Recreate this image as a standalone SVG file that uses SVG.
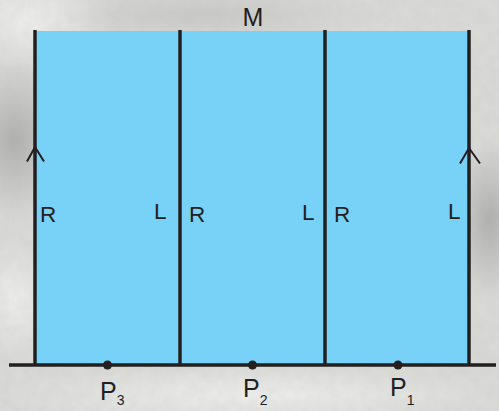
<svg xmlns="http://www.w3.org/2000/svg" width="499" height="411" viewBox="0 0 499 411">
<defs>
<style>
.ln{stroke:#231f20;stroke-width:3.5;fill:none}
.arr{stroke:#231f20;stroke-width:2;fill:none}
.t{font-family:"Liberation Sans",Arial,sans-serif;fill:#231f20}
.lab{font-size:22.5px}
.big{font-size:25px}
.sub{font-size:14px}
</style>
<radialGradient id="gl" cx="0.5" cy="0.5" r="0.5">
<stop offset="0" stop-color="#a6a6a4" stop-opacity="0.85"/>
<stop offset="1" stop-color="#a6a6a4" stop-opacity="0"/>
</radialGradient>
<radialGradient id="gw" cx="0.5" cy="0.5" r="0.5">
<stop offset="0" stop-color="#f2f2f0" stop-opacity="0.9"/>
<stop offset="1" stop-color="#f2f2f0" stop-opacity="0"/>
</radialGradient>
<filter id="noise" x="0" y="0" width="100%" height="100%">
<feTurbulence type="fractalNoise" baseFrequency="0.08" numOctaves="3" seed="4"/>
<feColorMatrix type="matrix" values="0 0 0 0 0.5  0 0 0 0 0.5  0 0 0 0 0.5  0 0 0 0.22 0"/>
</filter>
</defs>
<g id="background">
<rect x="0" y="0" width="499" height="411" fill="#dadad7"/>
<ellipse cx="15" cy="140" rx="55" ry="80" fill="url(#gl)"/>
<ellipse cx="490" cy="220" rx="40" ry="80" fill="url(#gl)"/>
<ellipse cx="200" cy="15" rx="180" ry="30" fill="url(#gl)" opacity="0.4"/>
<ellipse cx="30" cy="20" rx="80" ry="50" fill="url(#gw)"/>
<ellipse cx="250" cy="395" rx="260" ry="30" fill="url(#gw)"/>
<ellipse cx="15" cy="300" rx="40" ry="60" fill="url(#gw)"/>
<rect x="0" y="0" width="499" height="411" filter="url(#noise)"/>
</g>
<g id="region">
<rect x="35" y="31" width="434" height="334" fill="#78d1f6"/>
</g>
<g id="connectors">
<line class="ln" x1="35" y1="30" x2="35" y2="365"/>
<line class="ln" x1="180" y1="30" x2="180" y2="365"/>
<line class="ln" x1="325" y1="30" x2="325" y2="365"/>
<line class="ln" x1="469" y1="30" x2="469" y2="365"/>
<line class="ln" x1="9" y1="365" x2="496" y2="365"/>
<polyline class="arr" points="27,161.5 35,147 44,161.5"/>
<polyline class="arr" points="460,163.5 469,148 480,163.5"/>
</g>
<g id="points">
<circle cx="107.5" cy="365" r="4.5" fill="#231f20"/>
<circle cx="252.5" cy="365" r="4.5" fill="#231f20"/>
<circle cx="398" cy="365" r="4.5" fill="#231f20"/>
</g>
<g id="labels">
<text class="t big" x="242.5" y="26">M</text>
<text class="t lab" x="40" y="221.5">R</text>
<text class="t lab" x="154" y="218.5">L</text>
<text class="t lab" x="189" y="221.5">R</text>
<text class="t lab" x="302" y="220">L</text>
<text class="t lab" x="334" y="221.5">R</text>
<text class="t lab" x="448" y="218.5">L</text>
<text class="t big" x="100" y="400">P<tspan class="sub" dy="5">3</tspan></text>
<text class="t big" x="243" y="397">P<tspan class="sub" dy="8">2</tspan></text>
<text class="t big" x="390" y="395.5">P<tspan class="sub" dy="9">1</tspan></text>
</g>
</svg>
